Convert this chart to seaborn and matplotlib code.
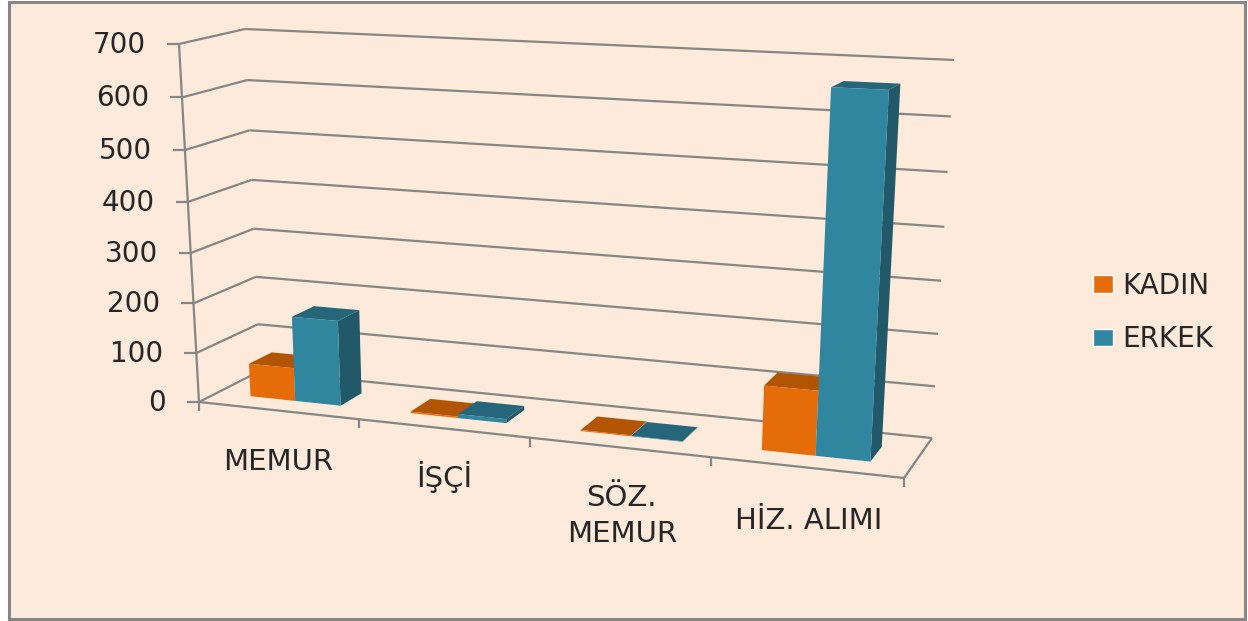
import numpy as np
import pandas as pd
import matplotlib
matplotlib.use('Agg')
import matplotlib.pyplot as plt
from matplotlib.patches import Polygon
from matplotlib.transforms import Transform
import seaborn as sns

# values
categories = ['MEMUR', 'İŞÇİ', 'SÖZ.\nMEMUR', 'HİZ. ALIMI']
kadin = [67, 3, 2, 122]
erkek = [171, 8, 1, 664]
y_ticks = [0, 100, 200, 300, 400, 500, 600, 700]

BG = '#FDEADA'
LINE = '#868686'
TEXT = '#262626'
colors = {'KADIN': '#E56C09', 'ERKEK': '#30859F'}
top_colors = {'KADIN': '#B15503', 'ERKEK': '#25667A'}
side_color = '#215968'

W, H = 1248, 621

# corners of the fake 3d box in picture pixels
FLB = np.array([199.0, 402.0])
FLT = np.array([179.0, 44.0])
FRB = np.array([904.0, 478.0])
FRT = np.array([926.0, 75.0])
BLB = np.array([260.0, 371.0])
BLT = np.array([245.0, 29.0])
BRB = np.array([932.0, 438.0])
BRT = np.array([954.0, 60.0])
PERSP_X = 0.883
PERSP_Y = 0.95
BAR_FRONT = 0.30
BAR_BACK = 0.68


class Box(Transform):
    # data (x, y) at depth w -> display pixels
    input_dims = 2
    output_dims = 2

    def __init__(self, ax, w=0.0):
        super().__init__()
        self.ax = ax
        self.w = w

    def transform_non_affine(self, values):
        uv = self.ax.transLimits.transform(np.asarray(values, dtype=float))
        u = uv[:, 0] * PERSP_X / (1 + (PERSP_X - 1) * uv[:, 0])
        v = uv[:, 1] * PERSP_Y / (1 + (PERSP_Y - 1) * uv[:, 1])
        u = u[:, None]
        v = v[:, None]
        front = (1 - u) * ((1 - v) * FLB + v * FLT) + u * ((1 - v) * FRB + v * FRT)
        back = (1 - u) * ((1 - v) * BLB + v * BLT) + u * ((1 - v) * BRB + v * BRT)
        p = (1 - self.w) * front + self.w * back
        return np.column_stack([p[:, 0], H - p[:, 1]])

    def inverted(self):
        raise NotImplementedError


df = pd.DataFrame({
    'kategori': categories * 2,
    'cinsiyet': ['KADIN'] * 4 + ['ERKEK'] * 4,
    'deger': kadin + erkek,
})

sns.set_theme(style='white')
plt.rcParams['font.family'] = ['DejaVu Sans']

fig = plt.figure(figsize=(W / 100, H / 100), dpi=100, facecolor='white')
ax = fig.add_axes([8.5 / W, 2 / H, 1236 / W, 617 / H], facecolor=BG)
sns.barplot(data=df, x='kategori', y='deger', hue='cinsiyet', order=categories,
            hue_order=['KADIN', 'ERKEK'], palette=colors, saturation=1,
            width=0.57, gap=0, ax=ax)
ax.set_xlim(-0.5, 3.5)
ax.set_ylim(0, 700)
ax.set(xlabel='', ylabel='', xticks=[], yticks=[])
for s in ax.spines.values():
    s.set_color(LINE)
    s.set_linewidth(2.2)

front = Box(ax, 0)
back = Box(ax, 1)
line_kw = dict(color=LINE, lw=1.6, clip_on=False, zorder=1, solid_capstyle='butt')


def wall_line(p0, p1):
    # straight line between two projected points
    a = Box(ax, p0[2]).transform_non_affine(np.array([p0[:2]]))[0]
    b = Box(ax, p1[2]).transform_non_affine(np.array([p1[:2]]))[0]
    ax.plot([a[0], b[0]], [a[1], b[1]], transform=None, **line_kw)


# walls, floor and axis lines
for v in y_ticks:
    ax.plot([-0.5, 3.5], [v, v], transform=back, **line_kw)
    wall_line((-0.5, v, 0), (-0.5, v, 1))
    a = front.transform_non_affine(np.array([[-0.5, v]]))[0]
    ax.plot([a[0] - 12, a[0]], [a[1], a[1]], transform=None, **line_kw)
    ax.annotate(str(v), (a[0], a[1]), xycoords='figure pixels', xytext=(-33, -1),
                textcoords='offset pixels', ha='right', va='center',
                fontsize=20, color=TEXT, annotation_clip=False)
ax.plot([-0.5, -0.5], [0, 700], transform=front, **line_kw)
ax.plot([-0.5, 3.5], [0, 0], transform=front, **line_kw)
wall_line((3.5, 0, 0), (3.5, 0, 1))
for x in np.arange(-0.5, 3.6):
    a = front.transform_non_affine(np.array([[x, 0]]))[0]
    ax.plot([a[0], a[0]], [a[1], a[1] - 9], transform=None, **line_kw)

# category labels hang under the sloping floor edge
label_drop = [51, 49, 69, 54]
label_shift = [0, 1, 3, 3]
for i, lab in enumerate(categories):
    a = front.transform_non_affine(np.array([[i, 0]]))[0]
    ax.annotate(lab, (a[0], a[1]), xycoords='figure pixels',
                xytext=(label_shift[i], -label_drop[i]), textcoords='offset pixels',
                ha='center', va='center', fontsize=21, color=TEXT,
                linespacing=1.35, annotation_clip=False)

# seaborn bars become the front faces, top and side get added from their geometry
for cont, name in zip(ax.containers, ['KADIN', 'ERKEK']):
    order = 3 if name == 'KADIN' else 5
    for bar in cont:
        x0, x1 = bar.get_x(), bar.get_x() + bar.get_width()
        h = bar.get_height()
        bf = Box(ax, BAR_FRONT)
        bb = Box(ax, BAR_BACK)
        tl, tr = bf.transform_non_affine(np.array([[x0, h], [x1, h]]))
        bl, br = bb.transform_non_affine(np.array([[x0, h], [x1, h]]))
        ax.add_patch(Polygon([tl, tr, br, bl], closed=True, transform=None,
                             facecolor=top_colors[name], edgecolor='none',
                             clip_on=False, zorder=order))
        if name == 'ERKEK':
            fb = bf.transform_non_affine(np.array([[x1, 0]]))[0]
            kb = bb.transform_non_affine(np.array([[x1, 0]]))[0]
            ax.add_patch(Polygon([tr, br, kb, fb], closed=True, transform=None,
                                 facecolor=side_color, edgecolor='none',
                                 clip_on=False, zorder=order))
        bar.set_transform(bf)
        bar.set_edgecolor('none')
        bar.set_clip_on(False)
        bar.set_zorder(order + 1)

sns.move_legend(ax, 'center left', bbox_to_anchor=(1059 / 1236, 0.5 - 2 / 617),
                title=None, frameon=False, fontsize=20, handlelength=0.72,
                handleheight=0.6, handletextpad=0.36, labelspacing=0.92)
for t in ax.get_legend().get_texts():
    t.set_color(TEXT)

fig.savefig('out.png', dpi=100, facecolor='white')
